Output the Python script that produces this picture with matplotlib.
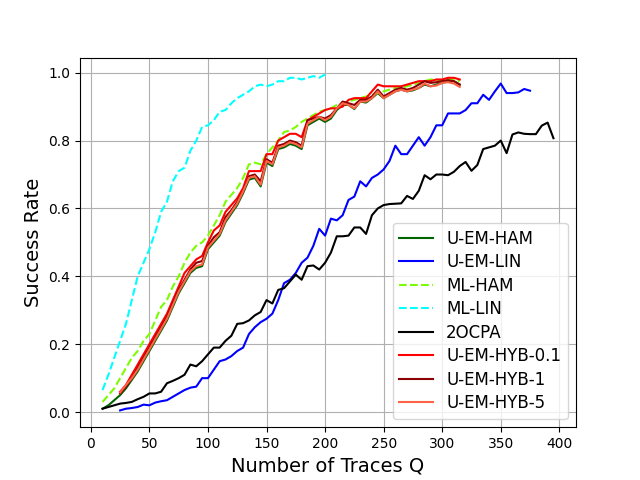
import matplotlib
matplotlib.use("Agg")
import matplotlib.pyplot as plt
import numpy as np

# -----------------------------
# Data
# -----------------------------
q_uem_ham = np.arange(10, 320, 5)
uem_ham = [0.01, 0.02, 0.035, 0.05, 0.07, 0.095, 0.12, 0.15, 0.18, 0.21,
           0.24, 0.27, 0.31, 0.35, 0.38, 0.41, 0.425, 0.43, 0.48, 0.50,
           0.52, 0.56, 0.585, 0.61, 0.645, 0.685, 0.69, 0.665, 0.735, 0.725,
           0.775, 0.78, 0.79, 0.785, 0.775, 0.845, 0.855, 0.865, 0.855, 0.865,
           0.89, 0.905, 0.905, 0.893, 0.915, 0.912, 0.925, 0.94, 0.925, 0.935,
           0.945, 0.95, 0.945, 0.948, 0.955, 0.965, 0.96, 0.965, 0.97, 0.975,
           0.975, 0.965]

q_uem_lin = np.arange(25, 380, 5)
uem_lin = [0.005, 0.01, 0.012, 0.015, 0.022, 0.02, 0.028, 0.032, 0.035, 0.045,
           0.055, 0.065, 0.072, 0.075, 0.10, 0.10, 0.125, 0.15, 0.155, 0.165,
           0.18, 0.19, 0.23, 0.25, 0.265, 0.275, 0.29, 0.33, 0.38, 0.39,
           0.41, 0.44, 0.455, 0.49, 0.54, 0.52, 0.57, 0.565, 0.58, 0.625,
           0.635, 0.68, 0.665, 0.69, 0.70, 0.715, 0.74, 0.785, 0.76, 0.76,
           0.785, 0.81, 0.785, 0.81, 0.845, 0.845, 0.88, 0.88, 0.88, 0.89,
           0.91, 0.91, 0.935, 0.92, 0.945, 0.968, 0.94, 0.94, 0.942, 0.952,
           0.947]

q_ml_ham = np.arange(10, 320, 5)
ml_ham = [0.03, 0.05, 0.07, 0.10, 0.13, 0.16, 0.18, 0.21, 0.23, 0.27,
          0.31, 0.33, 0.37, 0.40, 0.44, 0.47, 0.49, 0.50, 0.52, 0.55,
          0.58, 0.62, 0.64, 0.66, 0.69, 0.73, 0.735, 0.73, 0.76, 0.78,
          0.80, 0.825, 0.83, 0.84, 0.855, 0.865, 0.875, 0.885, 0.89, 0.895,
          0.905, 0.91, 0.915, 0.92, 0.925, 0.93, 0.935, 0.94, 0.945, 0.95,
          0.955, 0.955, 0.96, 0.965, 0.97, 0.975, 0.98, 0.98, 0.975, 0.98,
          0.98, 0.975]

q_ml_lin = np.arange(10, 205, 5)
ml_lin = [0.065, 0.11, 0.16, 0.21, 0.26, 0.33, 0.40, 0.44, 0.48, 0.53,
          0.59, 0.62, 0.68, 0.71, 0.72, 0.77, 0.80, 0.84, 0.845, 0.86,
          0.885, 0.89, 0.91, 0.925, 0.935, 0.945, 0.96, 0.965, 0.96, 0.965,
          0.975, 0.975, 0.985, 0.985, 0.98, 0.985, 0.99, 0.985, 0.995]

q_2ocpa = np.arange(10, 400, 5)
ocpa = [0.01, 0.015, 0.02, 0.025, 0.027, 0.03, 0.038, 0.045, 0.055, 0.055,
        0.06, 0.085, 0.092, 0.10, 0.11, 0.14, 0.135, 0.15, 0.17, 0.19,
        0.19, 0.21, 0.225, 0.26, 0.262, 0.27, 0.285, 0.295, 0.33, 0.32,
        0.36, 0.365, 0.385, 0.405, 0.39, 0.43, 0.432, 0.42, 0.44, 0.47,
        0.518, 0.518, 0.52, 0.544, 0.544, 0.525, 0.58, 0.60, 0.61, 0.613,
        0.614, 0.615, 0.637, 0.628, 0.652, 0.698, 0.686, 0.70, 0.70, 0.698,
        0.708, 0.725, 0.737, 0.711, 0.728, 0.775, 0.78, 0.785, 0.80, 0.763,
        0.818, 0.824, 0.82, 0.819, 0.819, 0.844, 0.853, 0.807]

q_hyb = np.arange(25, 320, 5)
hyb_01 = [0.06, 0.08, 0.11, 0.14, 0.17, 0.20, 0.23, 0.26, 0.29, 0.33,
          0.37, 0.41, 0.43, 0.45, 0.46, 0.50, 0.535, 0.55, 0.59, 0.61,
          0.63, 0.66, 0.71, 0.71, 0.71, 0.76, 0.76, 0.80, 0.81, 0.82,
          0.82, 0.81, 0.86, 0.87, 0.88, 0.89, 0.895, 0.895, 0.90, 0.92,
          0.925, 0.925, 0.925, 0.945, 0.965, 0.96, 0.96, 0.96, 0.96, 0.965,
          0.97, 0.975, 0.975, 0.975, 0.98, 0.98, 0.985, 0.985, 0.98]
hyb_1 = [0.055, 0.075, 0.10, 0.13, 0.16, 0.19, 0.22, 0.25, 0.28, 0.32,
         0.36, 0.39, 0.42, 0.44, 0.445, 0.49, 0.515, 0.53, 0.575, 0.595,
         0.62, 0.65, 0.695, 0.70, 0.68, 0.745, 0.735, 0.785, 0.79, 0.80,
         0.795, 0.785, 0.86, 0.865, 0.87, 0.865, 0.875, 0.895, 0.915, 0.91,
         0.905, 0.92, 0.92, 0.93, 0.95, 0.93, 0.94, 0.95, 0.955, 0.95,
         0.955, 0.965, 0.975, 0.97, 0.972, 0.975, 0.978, 0.975, 0.965]
hyb_5 = [0.058, 0.08, 0.10, 0.125, 0.155, 0.185, 0.215, 0.245, 0.275, 0.315,
         0.355, 0.385, 0.415, 0.43, 0.435, 0.485, 0.505, 0.525, 0.565, 0.59,
         0.615, 0.65, 0.69, 0.695, 0.67, 0.74, 0.73, 0.78, 0.785, 0.795,
         0.79, 0.78, 0.85, 0.86, 0.87, 0.86, 0.87, 0.895, 0.91, 0.905,
         0.895, 0.915, 0.915, 0.925, 0.945, 0.925, 0.935, 0.945, 0.95, 0.945,
         0.95, 0.955, 0.968, 0.96, 0.962, 0.97, 0.972, 0.968, 0.958]

# -----------------------------
# Plot
# -----------------------------
fig, ax = plt.subplots(figsize=(6.4, 4.8), dpi=100)

ax.plot(q_uem_ham, uem_ham, color="darkgreen", label="U-EM-HAM")
ax.plot(q_uem_lin, uem_lin, color="blue", label="U-EM-LIN")
ax.plot(q_ml_ham, ml_ham, color="lawngreen", linestyle="--", label="ML-HAM")
ax.plot(q_ml_lin, ml_lin, color="cyan", linestyle="--", label="ML-LIN")
ax.plot(q_2ocpa, ocpa, color="black", label="2OCPA")
ax.plot(q_hyb, hyb_01, color="red", label="U-EM-HYB-0.1")
ax.plot(q_hyb, hyb_1, color="darkred", label="U-EM-HYB-1")
ax.plot(q_hyb, hyb_5, color="tomato", label="U-EM-HYB-5")

ax.set_xlabel("Number of Traces Q", fontsize=14)
ax.set_ylabel("Success Rate", fontsize=14)
ax.grid(True)
ax.legend(loc="lower right", fontsize=12, labelspacing=0.33)

fig.savefig("out.png", dpi=100)
